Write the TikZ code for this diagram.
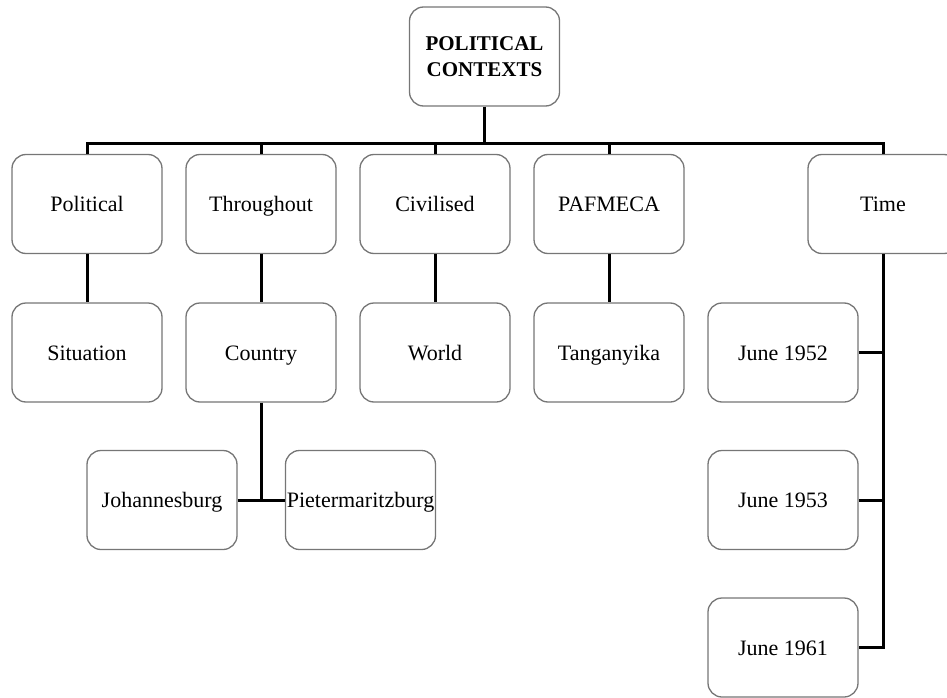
\documentclass[tikz,border=0pt]{standalone}
\usepackage{fontspec}
\setmainfont{Liberation Serif}
\definecolor{boxgray}{HTML}{767676}
\begin{document}
\begin{tikzpicture}[x=1pt,y=-1pt,
  basebox/.style={draw=boxgray, line width=1.3pt, rounded corners=14pt, fill=white,
    minimum width=150pt, minimum height=99pt, inner sep=0pt, align=center},
  box/.style={basebox, font=\fontsize{22}{26}\selectfont,
    text height=18pt, text depth=3pt},
  rootbox/.style={basebox, font=\fontsize{21}{26}\selectfont\bfseries},
  link/.style={line width=3pt, draw=black}]
\useasboundingbox (0,0) rectangle (947,698);
\clip (0,0) rectangle (947,698);

% root
\node[rootbox] (root) at (484.5,56.5) {POLITICAL\\CONTEXTS};

% first level
\node[box] (pol)  at (87,204)  {Political};
\node[box] (thr)  at (261,204) {Throughout};
\node[box] (civ)  at (435,204) {Civilised};
\node[box] (paf)  at (609,204) {PAFMECA};
\node[box] (time) at (883,204) {Time};

% second level
\node[box] (sit) at (87,352.5)  {Situation};
\node[box] (cty) at (261,352.5) {Country};
\node[box] (wld) at (435,352.5) {World};
\node[box] (tan) at (609,352.5) {Tanganyika};
\node[box] (j52) at (783,352.5) {June 1952};

% third level
\node[box] (joh) at (162,500)   {Johannesburg};
\node[box] (pie) at (360.5,500) {Pietermaritzburg};
\node[box] (j53) at (783,500)   {June 1953};
\node[box] (j61) at (783,647.5) {June 1961};

% bus under the root
\coordinate (bar) at (484.5,143);
\draw[link] (root.south) -- (bar);
\draw[link] (pol.north) |- (bar) -| (time.north);
\draw[link] (thr.north) -- (thr.north |- bar);
\draw[link] (civ.north) -- (civ.north |- bar);
\draw[link] (paf.north) -- (paf.north |- bar);

% columns
\draw[link] (pol.south) -- (sit.north);
\draw[link] (thr.south) -- (cty.north);
\draw[link] (civ.south) -- (wld.north);
\draw[link] (paf.south) -- (tan.north);

% country split
\coordinate (cj) at (cty.south |- joh.east);
\draw[link] (cty.south) -- (cj);
\draw[link] (joh.east) -- (pie.west);

% time line
\draw[link] (time.south) |- (j61.east);
\draw[link] (j52.east) -- (j52.east -| time.south);
\draw[link] (j53.east) -- (j53.east -| time.south);
\end{tikzpicture}
\end{document}
